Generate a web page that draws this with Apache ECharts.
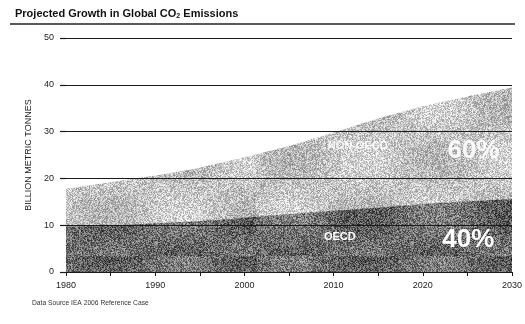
<!DOCTYPE html>
<html>
<head>
<meta charset="utf-8">
<style>
  html, body { margin: 0; padding: 0; background: #fff; }
  #chart { width: 525px; height: 324px; }
</style>
<script src="https://cdn.jsdelivr.net/npm/echarts@6/dist/echarts.min.js"></script>
</head>
<body>
<div id="chart"></div>
<script>
// Years on the horizontal axis
const years = [1980, 1985, 1990, 1995, 2000, 2005, 2010, 2015, 2020, 2025, 2030];
// OECD emissions, billion metric tonnes
const oecd = [9.7, 9.9, 10.4, 10.9, 11.6, 12.4, 13.1, 13.8, 14.5, 15.1, 15.6];
// World total emissions (OECD + non-OECD), billion metric tonnes
const total = [17.8, 19.2, 20.6, 22.3, 24.5, 26.9, 29.8, 32.8, 35.4, 37.5, 39.4];
// Share labels in 2030
const shareLabels = { nonOecd: '60%', oecd: '40%' };
const yTicks = [0, 10, 20, 30, 40, 50];

// Grainy fill tile: deterministic speckle around a base grey
function grainTile(size, base, spread, seed) {
  const c = document.createElement('canvas');
  c.width = size; c.height = size;
  const ctx = c.getContext('2d');
  const img = ctx.createImageData(size, size);
  let s = seed >>> 0;
  const rnd = () => { s = (Math.imul(s, 1664525) + 1013904223) >>> 0; return s / 4294967296; };
  for (let i = 0; i < size * size; i++) {
    const x = i % size, y = Math.floor(i / size);
    const wave = Math.sin(x / 23) * Math.cos(y / 17) * spread * 0.35;
    let v = base + wave + (rnd() - 0.5) * 2 * spread;
    v = Math.max(0, Math.min(255, v));
    img.data[i * 4] = v; img.data[i * 4 + 1] = v; img.data[i * 4 + 2] = v; img.data[i * 4 + 3] = 255;
  }
  ctx.putImageData(img, 0, 0);
  return c;
}

const chart = echarts.init(document.getElementById('chart'), null, { renderer: 'canvas' });
const font = '"Liberation Sans", Arial, sans-serif';
const axisColor = '#1a1a1a';

chart.setOption({
  animation: false,
  backgroundColor: '#fff',
  textStyle: { fontFamily: font },
  title: {
    text: '{a|Projected Growth in Global CO}{s|2}{a| Emissions}',
    left: 10, top: 3,
    textStyle: {
      rich: {
        a: { fontFamily: font, fontWeight: 'bold', fontSize: 11, color: '#111' },
        s: { fontFamily: font, fontWeight: 'bold', fontSize: 7, color: '#111', padding: [5, 0, 0, 0] }
      }
    }
  },
  graphic: [
    { type: 'line', shape: { x1: 10, y1: 24, x2: 515, y2: 24 }, style: { stroke: '#222', lineWidth: 1.5 } },
    { type: 'text', left: 32, top: 300, style: { text: 'Data Source IEA 2006 Reference Case', font: '6.7px ' + font, fill: '#333' } }
  ],
  grid: { left: 66, right: 9, top: 38, bottom: 52 },
  xAxis: {
    type: 'value', min: 1980, max: 2030, interval: 5,
    axisLine: { show: true, lineStyle: { color: axisColor, width: 1.2 } },
    axisTick: { show: true, length: 4, lineStyle: { color: axisColor } },
    axisLabel: {
      color: '#222', fontSize: 9, margin: 9,
      formatter: v => (v % 10 === 0 ? String(v) : '')
    },
    splitLine: { show: false }
  },
  yAxis: {
    type: 'value', min: yTicks[0], max: yTicks[yTicks.length - 1], interval: 10,
    name: 'BILLION METRIC TONNES', nameLocation: 'middle', nameRotate: 90, nameGap: 30,
    nameTextStyle: { fontSize: 9, color: '#222' },
    axisLine: { show: false },
    axisTick: { show: true, length: 6, lineStyle: { color: axisColor, width: 1.2 } },
    axisLabel: { color: '#222', fontSize: 9, margin: 12 },
    splitLine: { show: true, lineStyle: { color: axisColor, width: 1.2 } },
    z: 5
  },
  series: [
    {
      // Total emissions; the part above the OECD band reads as non-OECD
      name: 'Non-OECD', type: 'line', symbol: 'none', smooth: 0.15,
      data: years.map((y, i) => [y, total[i]]),
      lineStyle: { width: 0 },
      areaStyle: { color: { image: grainTile(256, 196, 50, 13), repeat: 'repeat' }, opacity: 1 },
      z: 1,
      markPoint: {
        symbol: 'circle', symbolSize: 0, silent: true,
        data: [
          { coord: [2012.7, 27.0], label: { show: true, formatter: 'NON-OECD', color: 'rgba(255,255,255,0.9)', fontWeight: 'bold', fontSize: 11 } },
          { coord: [2025.7, 25.9], label: { show: true, formatter: shareLabels.nonOecd, color: 'rgba(255,255,255,0.92)', fontWeight: 'bold', fontSize: 26 } }
        ]
      }
    },
    {
      name: 'OECD', type: 'line', symbol: 'none', smooth: 0.15,
      data: years.map((y, i) => [y, oecd[i]]),
      lineStyle: { width: 0 },
      areaStyle: { color: { image: grainTile(256, 108, 62, 7), repeat: 'repeat' }, opacity: 1 },
      z: 2,
      markPoint: {
        symbol: 'circle', symbolSize: 0, silent: true,
        data: [
          { coord: [2010.7, 7.4], label: { show: true, formatter: 'OECD', color: '#fff', fontWeight: 'bold', fontSize: 11 } },
          { coord: [2025.1, 6.8], label: { show: true, formatter: shareLabels.oecd, color: '#fff', fontWeight: 'bold', fontSize: 26 } }
        ]
      }
    }
  ]
});
</script>
</body>
</html>
